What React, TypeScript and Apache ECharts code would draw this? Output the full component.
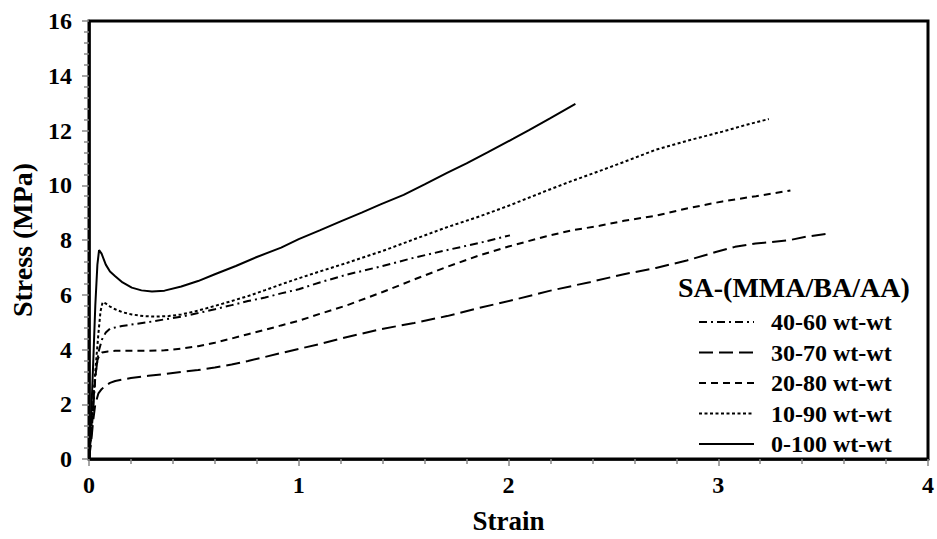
import React, { useEffect, useRef } from "react";
import * as echarts from "echarts";

// Stress–strain curves: [strain, stress (MPa)]
const s40_60: number[][] = [
  [0, 0], [0.01, 0.8], [0.02, 1.8], [0.03, 3.0], [0.045, 3.9], [0.062, 4.37], [0.08, 4.62],
  [0.1, 4.76], [0.157, 4.86], [0.22, 4.93], [0.283, 5.0], [0.36, 5.1], [0.44, 5.2], [0.52, 5.33],
  [0.6, 5.47], [0.68, 5.62], [0.758, 5.77], [0.84, 5.9], [0.916, 6.05], [1.0, 6.2], [1.1, 6.45],
  [1.232, 6.74], [1.4, 7.05], [1.548, 7.35], [1.7, 7.62], [1.865, 7.9], [2.007, 8.17],
];
const s30_70: number[][] = [
  [0, 0], [0.01, 0.6], [0.02, 1.4], [0.03, 2.0], [0.045, 2.4], [0.06, 2.55], [0.077, 2.67],
  [0.1, 2.78], [0.125, 2.85], [0.2, 2.96], [0.283, 3.04], [0.36, 3.1], [0.44, 3.18], [0.52, 3.25],
  [0.6, 3.34], [0.68, 3.45], [0.758, 3.58], [0.84, 3.73], [0.916, 3.87], [1.01, 4.04], [1.1, 4.2],
  [1.2, 4.4], [1.39, 4.74], [1.55, 4.97], [1.707, 5.22], [1.85, 5.5], [2.023, 5.81], [2.2, 6.15],
  [2.387, 6.46], [2.55, 6.75], [2.703, 6.98], [2.85, 7.25], [2.988, 7.56], [3.08, 7.75],
  [3.178, 7.87], [3.336, 7.99], [3.42, 8.12], [3.513, 8.22],
];
const s20_80: number[][] = [
  [0, 0], [0.01, 0.9], [0.02, 2.0], [0.03, 3.0], [0.04, 3.6], [0.05, 3.82], [0.062, 3.89],
  [0.09, 3.93], [0.125, 3.95], [0.2, 3.95], [0.283, 3.95], [0.36, 3.97], [0.44, 4.03], [0.52, 4.12],
  [0.6, 4.25], [0.68, 4.4], [0.758, 4.56], [0.84, 4.72], [0.916, 4.88], [1.0, 5.05], [1.1, 5.3],
  [1.232, 5.62], [1.4, 6.1], [1.548, 6.55], [1.7, 7.0], [1.865, 7.45], [2.0, 7.76], [2.181, 8.14],
  [2.3, 8.35], [2.434, 8.52], [2.55, 8.7], [2.703, 8.89], [2.85, 9.15], [3.02, 9.41], [3.18, 9.6],
  [3.344, 9.81],
];
const s10_90: number[][] = [
  [0, 0], [0.015, 1.5], [0.03, 3.2], [0.045, 4.6], [0.055, 5.4], [0.065, 5.73], [0.08, 5.68],
  [0.1, 5.57], [0.125, 5.47], [0.16, 5.36], [0.204, 5.28], [0.26, 5.22], [0.315, 5.2], [0.38, 5.22],
  [0.44, 5.28], [0.52, 5.42], [0.6, 5.59], [0.68, 5.77], [0.758, 5.95], [0.84, 6.17], [0.916, 6.38],
  [1.0, 6.6], [1.1, 6.85], [1.232, 7.17], [1.4, 7.6], [1.548, 8.02], [1.7, 8.45], [1.865, 8.87],
  [2.0, 9.25], [2.181, 9.8], [2.3, 10.15], [2.434, 10.52], [2.55, 10.85], [2.703, 11.3],
  [2.85, 11.62], [3.02, 11.96], [3.13, 12.2], [3.241, 12.42],
];
const s0_100: number[][] = [
  [0, 0], [0.01, 1.5], [0.02, 3.5], [0.03, 5.6], [0.04, 7.1], [0.048, 7.63], [0.06, 7.5],
  [0.08, 7.1], [0.1, 6.85], [0.125, 6.68], [0.16, 6.45], [0.204, 6.26], [0.25, 6.16], [0.3, 6.12],
  [0.36, 6.15], [0.44, 6.3], [0.52, 6.5], [0.6, 6.75], [0.7, 7.05], [0.8, 7.38], [0.916, 7.72],
  [1.0, 8.03], [1.1, 8.35], [1.2, 8.68], [1.3, 9.0], [1.39, 9.3], [1.5, 9.65], [1.6, 10.03],
  [1.707, 10.45], [1.8, 10.8], [1.9, 11.2], [2.023, 11.7], [2.1, 12.02], [2.2, 12.45], [2.319, 12.97],
];

const seriesNames = ["40-60 wt-wt", "30-70 wt-wt", "20-80 wt-wt", "10-90 wt-wt", "0-100 wt-wt"];
const legendTitle = "SA-(MMA/BA/AA)";
const xName = "Strain";
const yName = "Stress (MPa)";

const FONT = "'Liberation Serif', 'Times New Roman', serif";

export default function App() {
  const ref = useRef<HTMLDivElement>(null);
  useEffect(() => {
    if (!ref.current) return;
    const chart = echarts.init(ref.current, undefined, { renderer: "svg" });
    const dashes: any[] = [[8, 4, 2, 4], [14, 6], [7, 5], [3, 2.5], "solid"];
    const datas = [s40_60, s30_70, s20_80, s10_90, s0_100];
    const axisText = { fontFamily: FONT, fontWeight: "bold", fontSize: 24, color: "#000" };
    chart.setOption({
      animation: false,
      backgroundColor: "#fff",
      title: {
        text: legendTitle,
        left: 678,
        top: 272,
        padding: 0,
        textStyle: { fontFamily: FONT, fontWeight: "bold", fontSize: 28, color: "#000", lineHeight: 30 },
      },
      legend: {
        data: seriesNames,
        orient: "vertical",
        left: 698,
        top: 310,
        padding: 0,
        itemWidth: 55,
        itemHeight: 14,
        itemGap: 6.5,
        itemStyle: { opacity: 0 },
        textStyle: { fontFamily: FONT, fontWeight: "bold", fontSize: 24, color: "#000", lineHeight: 24, padding: [0, 0, 0, 12] },
      },
      grid: {
        left: 87,
        right: 7,
        top: 21,
        bottom: 79,
        show: true,
        borderColor: "#000",
        borderWidth: 3,
      },
      xAxis: {
        type: "value",
        min: 0,
        max: 4,
        interval: 1,
        name: xName,
        nameLocation: "middle",
        nameGap: 48,
        nameTextStyle: { ...axisText, fontSize: 27 },
        axisLine: { show: true, lineStyle: { color: "#000", width: 2.5 } },
        axisTick: { show: true, length: 7, lineStyle: { color: "#888", width: 1.5 } },
        minorTick: { show: true, splitNumber: 5, length: 5, lineStyle: { color: "#888", width: 1.5 } },
        splitLine: { show: false },
        axisLabel: { ...axisText, margin: 14 },
      },
      yAxis: {
        type: "value",
        min: 0,
        max: 16,
        interval: 2,
        name: yName,
        nameLocation: "middle",
        nameGap: 53,
        nameTextStyle: { ...axisText, fontSize: 28 },
        axisLine: { show: true, lineStyle: { color: "#000", width: 2.5 } },
        axisTick: { show: true, length: 7, lineStyle: { color: "#888", width: 1.5 } },
        minorTick: { show: true, splitNumber: 5, length: 5, lineStyle: { color: "#888", width: 1.5 } },
        splitLine: { show: false },
        axisLabel: { ...axisText, margin: 17 },
      },
      series: seriesNames.map((name, i) => ({
        name,
        type: "line",
        data: datas[i],
        symbol: "none",
        smooth: false,
        color: "#000",
        lineStyle: { color: "#000", width: 2, type: dashes[i] },
      })),
    });
    return () => chart.dispose();
  }, []);
  return (
    <div
      ref={ref}
      style={{ position: "fixed", left: 0, top: 0, width: 937, height: 539, background: "#fff" }}
    />
  );
}
